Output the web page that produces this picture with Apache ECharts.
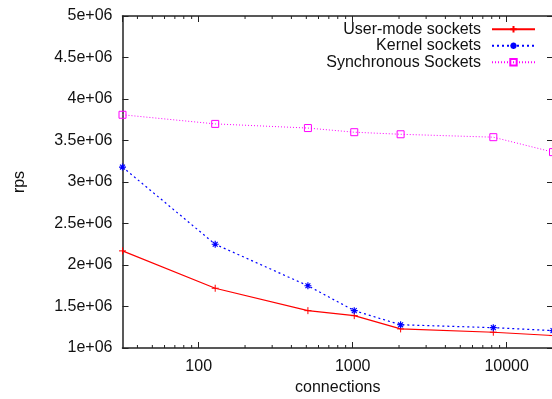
<!DOCTYPE html>
<html><head><meta charset="utf-8">
<script src="https://cdn.jsdelivr.net/npm/echarts@6/dist/echarts.min.js"></script>
<style>html,body{margin:0;padding:0;background:#fff}#c{width:552px;height:399px}</style>
</head><body><div id="c"></div>
<script>
const connections = [32, 128, 512, 1024, 2048, 8192, 20000];
const userMode = [2.17e6, 1.72e6, 1.45e6, 1.39e6, 1.23e6, 1.19e6, 1.15e6];
const kernel = [3.18e6, 2.25e6, 1.75e6, 1.45e6, 1.28e6, 1.245e6, 1.21e6];
const syncSock = [3.81e6, 3.70e6, 3.65e6, 3.60e6, 3.575e6, 3.54e6, 3.36e6];
const seriesNames = ['User-mode sockets', 'Kernel sockets', 'Synchronous Sockets'];
const minorTicks = [40,50,60,70,80,90,200,300,400,500,600,700,800,900,2000,3000,4000,5000,6000,7000,8000,9000];
const xMin = 32, xMax = 20000, yMin = 1e6, yMax = 5e6, yStep = 5e5;

const FONT = 'Liberation Sans';
const AX = '#222';
const pair = (xs, ys) => xs.map((x, i) => [x, ys[i]]);
const plusPath = 'path://M0,5L10,5M5,0L5,10';
const starPath = 'path://M0,5L10,5M5,0L5,10M1.5,1.5L8.5,8.5M8.5,1.5L1.5,8.5';

const chart = echarts.init(document.getElementById('c'), null, {renderer: 'canvas'});
const axisCommon = {
  axisLine: {show: true, lineStyle: {color: AX, width: 1.5}},
  axisTick: {show: true, inside: true, length: 6, lineStyle: {color: AX, width: 1}},
  splitLine: {show: false}
};
chart.setOption({
  animation: false,
  textStyle: {fontFamily: FONT},
  grid: {left: 122.5, right: -1, top: 16, bottom: 51, containLabel: false, outerBoundsMode: 'none'},
  legend: {
    orient: 'vertical', right: 11, top: 16, align: 'right',
    itemWidth: 43, itemHeight: 8, itemGap: 0,
    textStyle: {fontFamily: FONT, fontSize: 16, color: '#111', lineHeight: 16.5, padding: [0, 6, 0, 0]},
    data: seriesNames
  },
  xAxis: [
    Object.assign({}, axisCommon, {
      type: 'log', logBase: 10, min: xMin, max: xMax, position: 'bottom',
      name: 'connections', nameLocation: 'middle', nameGap: 31,
      nameTextStyle: {fontFamily: FONT, fontSize: 16, color: '#111'},
      axisLabel: {fontFamily: FONT, fontSize: 16, color: '#111', margin: 11, showMinLabel: false, showMaxLabel: false,
        formatter: v => String(Math.round(v))}
    }),
    Object.assign({}, axisCommon, {
      type: 'log', logBase: 10, min: xMin, max: xMax, position: 'top',
      axisLabel: {show: false}
    })
  ],
  yAxis: [
    Object.assign({}, axisCommon, {
      type: 'value', min: yMin, max: yMax, interval: yStep, position: 'left',
      name: 'rps', nameLocation: 'middle', nameGap: 95,
      nameTextStyle: {fontFamily: FONT, fontSize: 16, color: '#111'},
      axisLabel: {fontFamily: FONT, fontSize: 16, color: '#111', margin: 10,
        formatter: v => (Math.round(v / 1e5) / 10) + 'e+06'}
    }),
    Object.assign({}, axisCommon, {
      type: 'value', min: yMin, max: yMax, interval: yStep, position: 'right',
      axisLabel: {show: false}
    })
  ],
  series: [
    {
      name: seriesNames[0], type: 'line', data: pair(connections, userMode),
      symbol: plusPath, symbolSize: 7,
      lineStyle: {color: '#ff0000', width: 1.2, type: 'solid'},
      itemStyle: {color: 'rgba(0,0,0,0)', borderColor: '#ff0000', borderWidth: 1},
      emphasis: {disabled: true}, z: 3
    },
    {
      name: seriesNames[1], type: 'line', data: pair(connections, kernel),
      symbol: starPath, symbolSize: 7,
      lineStyle: {color: '#0000ff', width: 1.2, type: [2, 3]},
      itemStyle: {color: 'rgba(0,0,0,0)', borderColor: '#0000ff', borderWidth: 1.2},
      emphasis: {disabled: true}, z: 3
    },
    {
      name: seriesNames[2], type: 'line', data: pair(connections, syncSock),
      symbol: 'rect', symbolSize: 7,
      lineStyle: {color: '#ff00ff', width: 1, type: [1, 2]},
      itemStyle: {color: 'rgba(0,0,0,0)', borderColor: '#ff00ff', borderWidth: 1},
      emphasis: {disabled: true}, z: 3
    },
    {
      type: 'custom', data: minorTicks.map(v => [v]), silent: true, clip: false,
      xAxisIndex: 0, yAxisIndex: 0,
      renderItem: function (params, api) {
        const b = api.coord([api.value(0), yMin]);
        const t = api.coord([api.value(0), yMax]);
        const st = {stroke: AX, lineWidth: 1};
        return {type: 'group', children: [
          {type: 'line', shape: {x1: b[0], y1: b[1], x2: b[0], y2: b[1] - 3}, style: st},
          {type: 'line', shape: {x1: t[0], y1: t[1], x2: t[0], y2: t[1] + 3}, style: st}
        ]};
      }
    }
  ]
});
</script></body></html>
